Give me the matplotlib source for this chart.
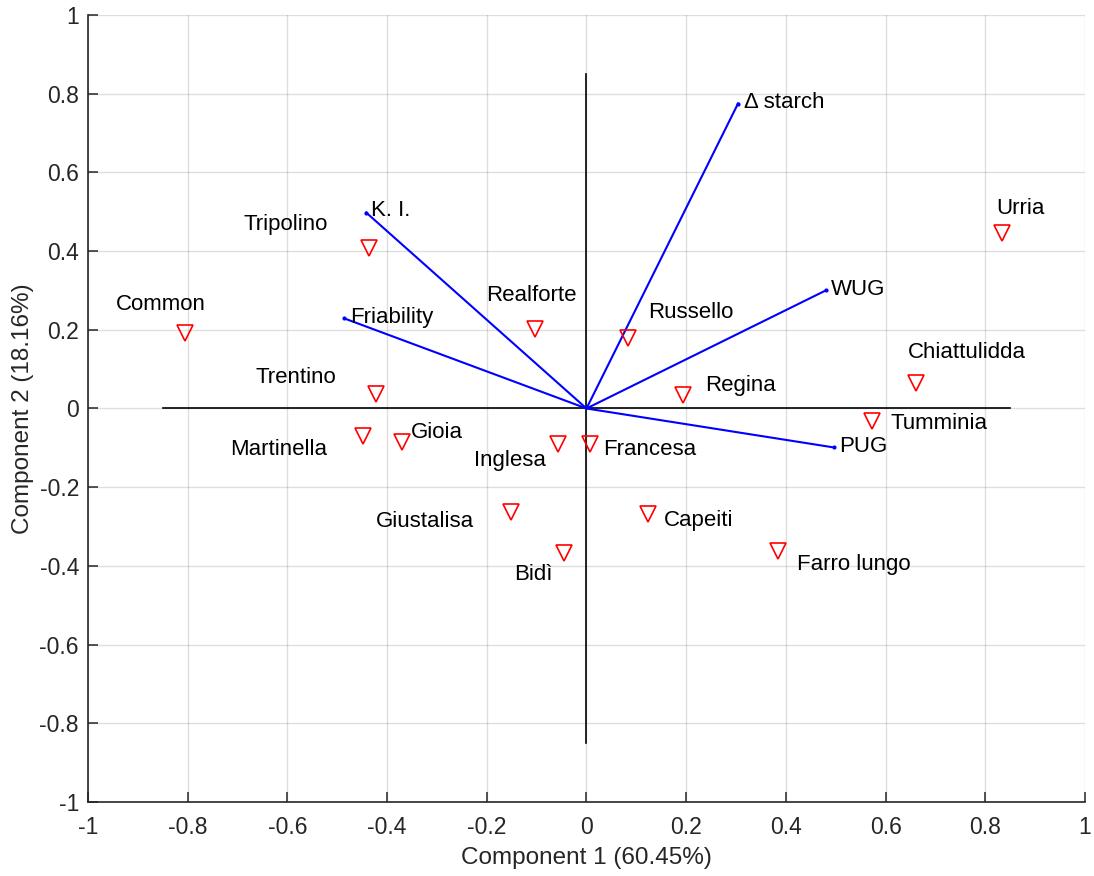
import matplotlib
matplotlib.use("Agg")
import matplotlib.pyplot as plt

plt.rcParams["font.family"] = ["Liberation Sans", "DejaVu Sans"]

# variable loadings (coefficients) on the first two components
var_names = ["\u0394 starch", "K. I.", "Friability", "WUG", "PUG"]
var_x = [0.304, -0.442, -0.486, 0.480, 0.496]
var_y = [0.775, 0.498, 0.229, 0.300, -0.099]
var_label_x = [0.316, -0.432, -0.474, 0.490, 0.506]
var_label_y = [0.778, 0.503, 0.231, 0.302, -0.097]

# sample scores
obs_names = ["Common", "Tripolino", "Trentino", "Martinella", "Gioia",
             "Realforte", "Russello", "Regina", "Inglesa", "Francesa",
             "Giustalisa", "Bid\u00ec", "Capeiti", "Farro lungo", "Tumminia",
             "Chiattulidda", "Urria"]
obs_x = [-0.805, -0.436, -0.422, -0.448, -0.370, -0.103, 0.083, 0.194,
         -0.057, 0.007, -0.152, -0.045, 0.123, 0.384, 0.573, 0.661, 0.833]
obs_y = [0.193, 0.409, 0.038, -0.069, -0.084, 0.203, 0.178, 0.033,
         -0.089, -0.091, -0.262, -0.368, -0.269, -0.361, -0.033, 0.064, 0.447]
obs_label_x = [-0.944, -0.687, -0.663, -0.715, -0.352, -0.202, 0.123, 0.238,
               -0.226, 0.033, -0.422, -0.146, 0.155, 0.422, 0.609, 0.645, 0.821]
obs_label_y = [0.264, 0.468, 0.079, -0.104, -0.061, 0.287, 0.244, 0.058,
               -0.132, -0.104, -0.287, -0.422, -0.285, -0.396, -0.038, 0.142, 0.508]

ticks = [-1, -0.8, -0.6, -0.4, -0.2, 0, 0.2, 0.4, 0.6, 0.8, 1]
tick_labels = ["-1", "-0.8", "-0.6", "-0.4", "-0.2", "0", "0.2", "0.4", "0.6", "0.8", "1"]

dark = (0.15, 0.15, 0.15)
fs = 16

fig = plt.figure(figsize=(10.94, 8.76), dpi=100)
ax = fig.add_axes([0.0804, 0.0845, 0.9114, 0.8984])

# reference axes through the origin
ax.plot([-0.85, 0.85], [0, 0], color="black", lw=1.2, zorder=2)
ax.plot([0, 0], [-0.85, 0.85], color="black", lw=1.2, zorder=2)

for vx, vy, name, lx, ly in zip(var_x, var_y, var_names, var_label_x, var_label_y):
    ax.plot([0, vx], [0, vy], color="blue", lw=1.5, zorder=3)
    ax.plot(vx, vy, marker=".", color="blue", ms=4, zorder=3)
    ax.text(lx, ly, name, fontsize=fs, color="black", va="center", ha="left")

ax.plot(obs_x, obs_y, linestyle="none", marker="v", ms=11, mfc="none",
        mec="red", mew=1.2, zorder=4)
for name, lx, ly in zip(obs_names, obs_label_x, obs_label_y):
    ax.text(lx, ly, name, fontsize=fs, color="black", va="center", ha="left")

ax.set_xlim(-1, 1)
ax.set_ylim(-1, 1)
ax.set_xticks(ticks)
ax.set_xticklabels(tick_labels)
ax.set_yticks(ticks)
ax.set_yticklabels(tick_labels)
ax.grid(True, color=(0.15, 0.15, 0.15), alpha=0.15, lw=1.0)
ax.set_axisbelow(True)
for side in ("top", "right"):
    ax.spines[side].set_visible(False)
for side in ("left", "bottom"):
    ax.spines[side].set_color(dark)
    ax.spines[side].set_linewidth(1.2)
ax.tick_params(direction="in", length=7.5, width=1.1, colors=dark,
               labelsize=16.5, pad=6.5)
ax.tick_params(axis="x", pad=10)
ax.set_xlabel("Component 1 (60.45%)", fontsize=17.5, color=dark, labelpad=6)
ax.set_ylabel("Component 2 (18.16%)", fontsize=17.5, color=dark, labelpad=4)

fig.savefig("out.png", dpi=100)
